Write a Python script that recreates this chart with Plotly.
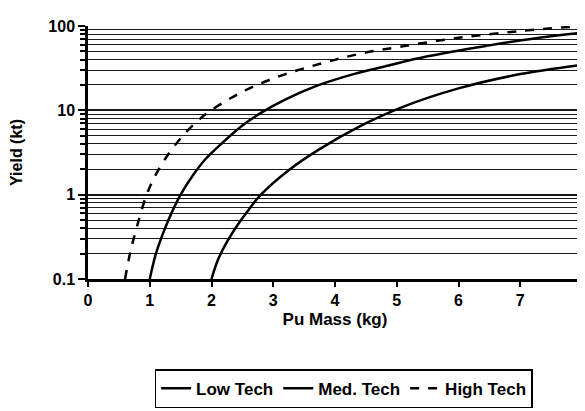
import plotly.graph_objects as go

# Pu mass (kg) vs yield (kt)
low_x = [2.0, 2.1, 2.25, 2.45, 2.6, 2.8, 3.25, 3.75, 4.4, 5.1, 6.0, 7.0, 8.0]
low_y = [0.1, 0.166, 0.275, 0.468, 0.66, 1.0, 1.95, 3.47, 6.46, 11.0, 18.2, 26.9, 34.7]

med_x = [1.0, 1.1, 1.22, 1.35, 1.5, 1.7, 1.9, 2.2, 2.5, 2.8, 3.2, 3.7, 4.3, 4.8, 5.5, 6.5, 7.2, 8.0]
med_y = [0.1, 0.2, 0.355, 0.6, 1.0, 1.7, 2.63, 4.27, 6.61, 9.33, 13.5, 19.5, 26.9, 33.1, 43.7, 58.9, 70.8, 83.2]

high_x = [0.6, 0.68, 0.8, 0.95, 1.1, 1.32, 1.6, 1.9, 2.3, 2.7, 3.2, 3.8, 4.4, 5.1, 6.0, 7.0, 8.0]
high_y = [0.1, 0.2, 0.437, 1.0, 1.74, 3.16, 5.62, 8.91, 13.8, 19.5, 26.9, 36.3, 46.8, 57.5, 72.4, 87.1, 100.0]

series_names = ["Low Tech", "Med. Tech", "High Tech"]

y_major = [0.1, 1, 10, 100]
y_major_text = ["0.1", "1", "10", "100"]
y_minor = [0.2, 0.3, 0.4, 0.5, 0.6, 0.7, 0.8, 0.9,
           2, 3, 4, 5, 6, 7, 8, 9,
           20, 30, 40, 50, 60, 70, 80, 90]
x_ticks = [0, 1, 2, 3, 4, 5, 6, 7, 8]

FONT = "Liberation Sans, Arial, sans-serif"

fig = go.Figure()
fig.add_trace(go.Scatter(x=low_x, y=low_y, name=series_names[0], mode="lines",
                         line=dict(color="black", width=2.5, shape="spline", smoothing=1.0)))
fig.add_trace(go.Scatter(x=med_x, y=med_y, name=series_names[1], mode="lines",
                         line=dict(color="black", width=2.5, shape="spline", smoothing=1.0)))
fig.add_trace(go.Scatter(x=high_x, y=high_y, name=series_names[2], mode="lines",
                         line=dict(color="black", width=2.5, dash="dash", shape="spline", smoothing=1.0)))

fig.update_layout(
    width=585, height=411,
    margin=dict(l=80, r=11, t=18, b=127),
    paper_bgcolor="white", plot_bgcolor="white",
    font=dict(family=FONT, color="black", size=16),
    showlegend=True,
    legend=dict(orientation="h", x=0.9, xanchor="right", y=-0.357, yanchor="top",
                bordercolor="black", borderwidth=1.5, bgcolor="white",
                font=dict(family=FONT, size=17, weight="bold"),
                itemwidth=30, tracegroupgap=0),
)

fig.update_xaxes(
    range=[0, 8], tickvals=x_ticks, ticktext=[str(v) for v in x_ticks],
    showgrid=False, zeroline=False,
    showline=True, linecolor="black", linewidth=2.5,
    ticks="outside", ticklen=5, tickwidth=2, tickcolor="black",
    tickfont=dict(family=FONT, size=16, weight="bold"),
    ticklabeloverflow="allow",
    title=dict(text="Pu Mass (kg)", font=dict(family=FONT, size=17, weight="bold"), standoff=6),
    automargin=False,
)

fig.update_yaxes(
    type="log", range=[-1, 2],
    tickvals=y_major, ticktext=y_major_text,
    showgrid=True, gridcolor="#1a1a1a", gridwidth=1.6,
    zeroline=False,
    showline=True, linecolor="black", linewidth=2.5, mirror=True,
    ticks="outside", ticklen=7, tickwidth=2, tickcolor="black",
    tickfont=dict(family=FONT, size=16, weight="bold"),
    ticklabeloverflow="allow",
    minor=dict(tickvals=y_minor, showgrid=True, gridcolor="#1a1a1a", gridwidth=1.3,
               ticks="outside", ticklen=5, tickwidth=1.5, tickcolor="black"),
    title=dict(text="Yield (kt)", font=dict(family=FONT, size=16, weight="bold"), standoff=22),
    automargin=False,
)

fig.write_html("out.html")
